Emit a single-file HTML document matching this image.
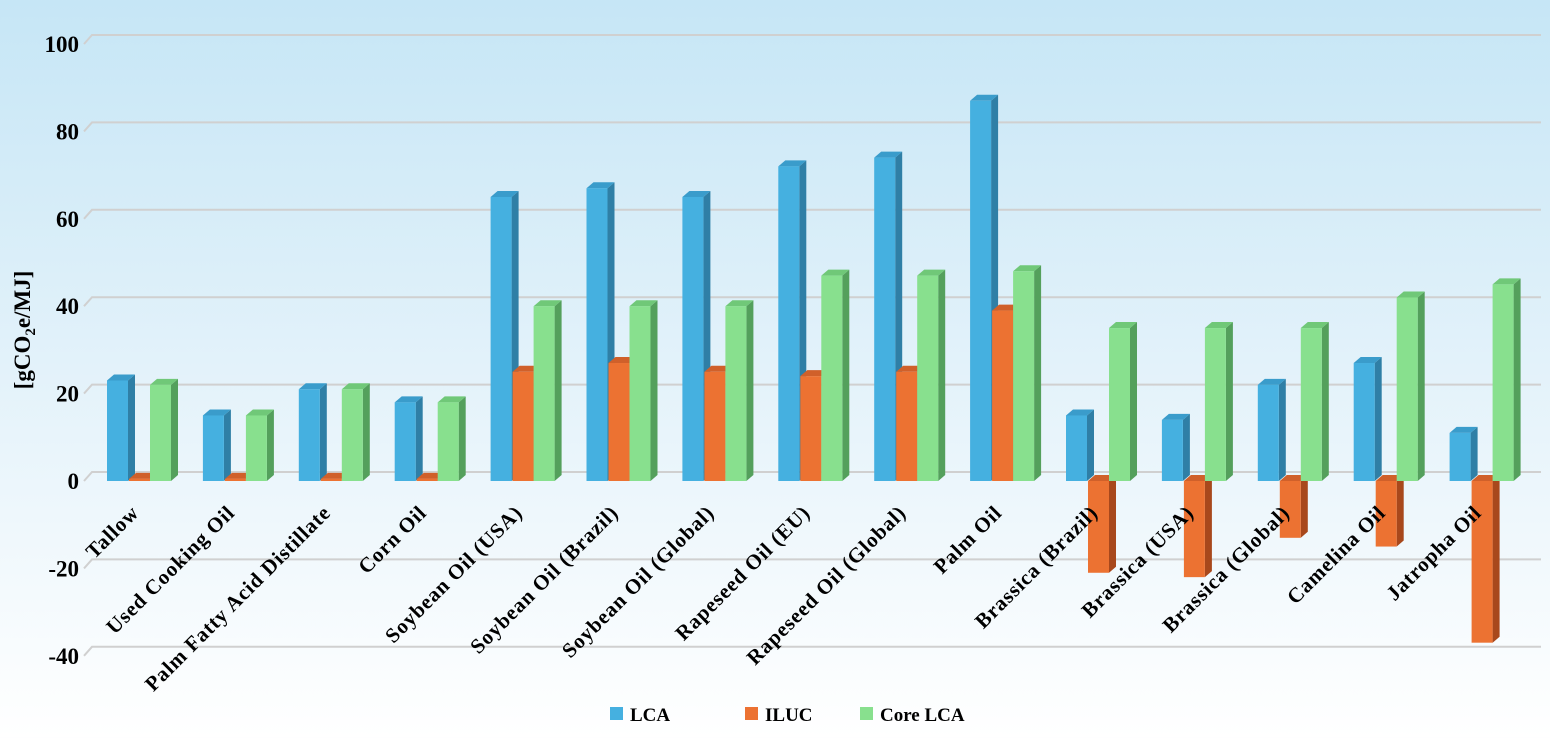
<!DOCTYPE html>
<html><head><meta charset="utf-8"><style>
html,body{margin:0;padding:0;width:1550px;height:738px;overflow:hidden}
body{background:linear-gradient(#c6e6f6 0%,#e3f2fa 50%,#ffffff 100%)}
text{font-family:"Liberation Serif",serif;font-weight:bold;fill:#000}
</style></head><body>
<svg id="c" width="1550" height="738"></svg>
<script>
const categories=["Tallow","Used Cooking Oil","Palm Fatty Acid Distillate","Corn Oil","Soybean Oil (USA)","Soybean Oil (Brazil)","Soybean Oil (Global)","Rapeseed Oil (EU)","Rapeseed Oil (Global)","Palm Oil","Brassica (Brazil)","Brassica (USA)","Brassica (Global)","Camelina Oil","Jatropha Oil"];
const lcaValues=[23,15,21,18,65,67,65,72,74,87,15,14,22,27,11];
const ilucValues=[0.5,0.5,0.5,0.5,25,27,25,24,25,39,-21,-22,-13,-15,-37];
const coreValues=[22,15,21,18,40,40,40,47,47,48,35,35,35,42,45];
const yTicks=[-40,-20,0,20,40,60,80,100];
const seriesNames=["LCA","ILUC","Core LCA"];
const NS="http://www.w3.org/2000/svg";
const svg=document.getElementById('c');
function y(v){return 481-v*4.37;}
function gx(i){return 85+i*95.9;}
function mk(t,a,p){const e=document.createElementNS(NS,t);for(const k in a)e.setAttribute(k,a[k]);(p||svg).appendChild(e);return e;}
const DX=7,DY=6;
yTicks.forEach(t=>{
  const g=mk('g',{});
  
  
  mk('polyline',{points:`84,${y(t)} 92,${y(t)-9} 1541,${y(t)-9}`,fill:'none',stroke:'#d0d0d0','stroke-width':2},g);
  const tx=mk('text',{x:79,y:y(t)+8,'text-anchor':'end','font-size':23});
  tx.textContent=t;
  
  
});
const colors=[["#45b0e0","#2f7fa6","#3a9ccb"],["#ec7232","#a8481c","#d0602a"],["#88e08e","#54a05c","#70c878"]];
const series=[lcaValues,ilucValues,coreValues];
const offs=[22,44,65];
categories.forEach((c,i)=>{
  series.forEach((arr,s)=>{
    const v=arr[i];const x=gx(i)+offs[s];const w=21;
    const y0=y(0),y1=y(v);const top=Math.min(y0,y1),bot=Math.max(y0,y1);
    const g=mk('g',{});
    
    
    mk('polygon',{points:`${x+w},${top} ${x+w+DX},${top-DY} ${x+w+DX},${bot-DY} ${x+w},${bot}`,fill:colors[s][1]},g);
    mk('polygon',{points:`${x},${top} ${x+DX},${top-DY} ${x+w+DX},${top-DY} ${x+w},${top}`,fill:colors[s][2]},g);
    mk('rect',{x:x,y:top,width:w,height:Math.max(bot-top,1.5),fill:colors[s][0]},g);
  });
  const cx=gx(i)+55,cy=514;
  const t=mk('text',{x:cx,y:cy,'text-anchor':'end','font-size':21,'letter-spacing':0.8,transform:`rotate(-45 ${cx} ${cy})`});
  t.textContent=c;
  
  
});
const yt=mk('text',{x:30,y:330,'text-anchor':'middle','font-size':23,transform:'rotate(-90 30 330)'});
yt.innerHTML='[gCO<tspan font-size="15" dy="5">2</tspan><tspan dy="-5">e/MJ]</tspan>';


const lx=[610,745,860];
seriesNames.forEach((n,s)=>{
  const g=mk('g',{});
  
  
  mk('rect',{x:lx[s],y:707,width:13,height:13,fill:colors[s][0]},g);
  const t=mk('text',{x:lx[s]+20,y:721,'font-size':19},g);t.textContent=n;
});
</script>
</body></html>
